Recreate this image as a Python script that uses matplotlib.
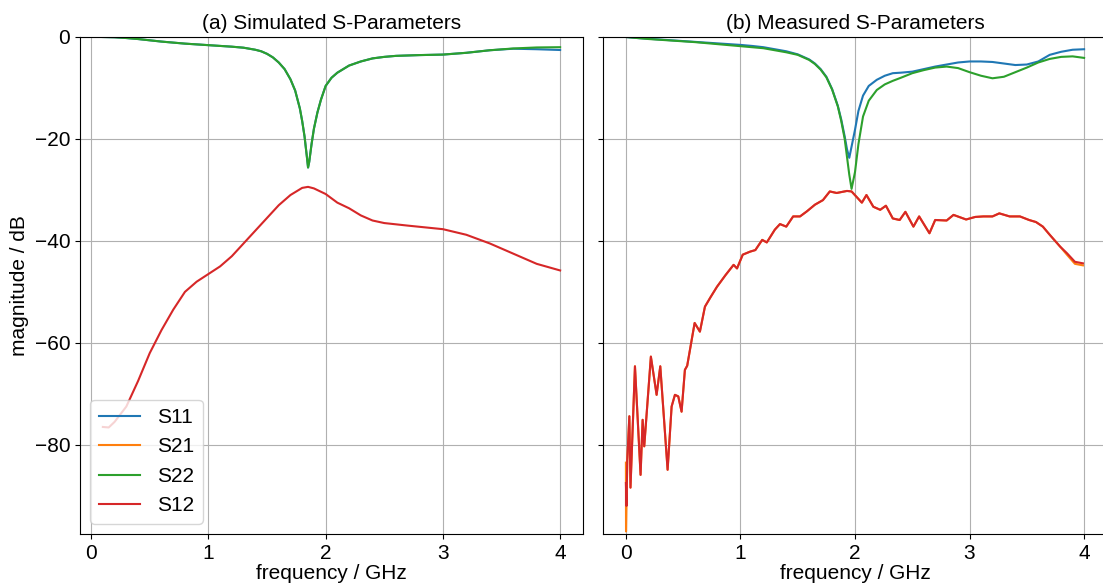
import numpy as np
import matplotlib.pyplot as plt

plt.rcParams['font.family'] = ['Liberation Sans', 'DejaVu Sans']
plt.rcParams['font.size'] = 15
plt.rcParams['axes.titlesize'] = 15

# ---- simulated S-parameters ----
f_sim = [0.1, 0.2, 0.3, 0.4, 0.5, 0.6, 0.7, 0.8, 0.9, 1.0, 1.1, 1.2, 1.3, 1.4, 1.45,
         1.5, 1.55, 1.6, 1.65, 1.7, 1.74, 1.78, 1.8, 1.82, 1.84, 1.85, 1.86, 1.88, 1.9,
         1.93, 1.96, 2.0, 2.05, 2.1, 2.2, 2.3, 2.4, 2.5, 2.6, 2.8, 3.0, 3.2, 3.4, 3.6,
         3.8, 4.0]
s22_sim = [0, -0.05, -0.2, -0.4, -0.65, -0.9, -1.1, -1.3, -1.45, -1.6, -1.75, -1.9, -2.1,
           -2.5, -2.8, -3.3, -4.0, -5.0, -6.3, -8.3, -10.5, -14.0, -16.5, -19.5, -23.5,
           -25.6, -24.5, -21.0, -18.0, -14.8, -12.3, -9.6, -8.0, -7.0, -5.6, -4.8, -4.2,
           -3.9, -3.7, -3.55, -3.45, -3.1, -2.6, -2.25, -2.05, -2.0]
s11_sim = s22_sim[:-3] + [-2.3, -2.4, -2.55]

f_s12_sim = [0.1, 0.15, 0.2, 0.3, 0.4, 0.5, 0.6, 0.7, 0.8, 0.9, 1.0, 1.1, 1.2, 1.3, 1.4,
             1.5, 1.6, 1.7, 1.8, 1.85, 1.9, 2.0, 2.1, 2.2, 2.3, 2.4, 2.5, 2.7, 3.0, 3.2,
             3.4, 3.6, 3.8, 4.0]
s12_sim = [-76.5, -76.6, -75.5, -72.5, -67.5, -62, -57.5, -53.5, -50, -48, -46.5, -45, -43,
           -40.5, -38, -35.5, -33, -31, -29.6, -29.4, -29.7, -30.8, -32.5, -33.6, -35.0,
           -36.0, -36.5, -37.0, -37.7, -38.8, -40.5, -42.5, -44.5, -45.8]

# ---- measured S-parameters ----
f_meas = [0, 0.1, 0.2, 0.3, 0.4, 0.5, 0.6, 0.7, 0.8, 0.9, 1.0, 1.1, 1.2, 1.3, 1.4, 1.5,
          1.6, 1.65, 1.7, 1.75, 1.8, 1.85, 1.88, 1.91, 1.93, 1.95, 1.97, 2.0, 2.03, 2.07,
          2.12, 2.19, 2.26, 2.33, 2.4, 2.5, 2.6, 2.7, 2.8, 2.9, 3.0, 3.1, 3.2, 3.3, 3.4,
          3.5, 3.6, 3.7, 3.8, 3.9, 4.0]
s11_meas = [0, -0.2, -0.35, -0.5, -0.65, -0.8, -0.95, -1.1, -1.25, -1.4, -1.55, -1.75,
            -2.0, -2.4, -2.8, -3.4, -4.4, -5.2, -6.3, -7.8, -10.2, -13.5, -16.2, -19.5,
            -22, -23.7, -21.5, -18.2, -14.5, -11.5, -9.6, -8.4, -7.6, -7.1, -7.0, -6.8,
            -6.3, -5.8, -5.4, -5.0, -4.8, -4.8, -4.9, -5.2, -5.5, -5.4, -4.8, -3.5, -2.9,
            -2.5, -2.4]
s22_meas = [0, -0.2, -0.4, -0.55, -0.7, -0.85, -1.0, -1.2, -1.4, -1.6, -1.8, -2.0, -2.2,
            -2.6, -3.0, -3.5, -4.5, -5.3, -6.4, -7.9, -10.3, -13.6, -16.5, -20, -23.5,
            -27, -29.8, -26.5, -21, -15.6, -12.5, -10.4, -9.3, -8.6, -8.0, -7.1, -6.5,
            -6.0, -5.8, -6.1, -6.9, -7.6, -8.1, -7.8, -6.9, -6.0, -5.0, -4.3, -3.9, -3.8,
            -4.1]

f_s12_meas = [0.0, 0.005, 0.012, 0.03, 0.04, 0.079, 0.128, 0.146, 0.16, 0.218, 0.268, 0.3,
              0.364, 0.399, 0.428, 0.457, 0.486, 0.515, 0.535, 0.6, 0.646, 0.69, 0.74,
              0.795, 0.87, 0.94, 0.97, 1.02, 1.085, 1.13, 1.19, 1.23, 1.3, 1.345, 1.4,
              1.46, 1.52, 1.58, 1.65, 1.72, 1.78, 1.84, 1.93, 1.97, 2.06, 2.1, 2.16, 2.22,
              2.27, 2.33, 2.39, 2.44, 2.51, 2.56, 2.65, 2.7, 2.8, 2.86, 2.97, 3.05, 3.12,
              3.2, 3.26, 3.35, 3.44, 3.52, 3.58, 3.64, 3.7, 3.79, 3.85, 3.92, 3.99]
s12_meas = [-87.5, -92, -83, -74.4, -88.4, -64.6, -85.9, -75.1, -80.3, -62.7, -70.2, -64.6,
            -84.9, -72.5, -70.2, -70.5, -73.5, -65.3, -64.5, -56.1, -57.8, -52.9, -51.0,
            -49.0, -46.7, -44.7, -45.4, -42.7, -42.1, -41.8, -39.8, -40.3, -37.8, -36.7,
            -37.2, -35.2, -35.2, -34.2, -32.9, -32.0, -30.3, -30.6, -30.2, -30.3, -32.5,
            -31.0, -33.3, -33.9, -33.1, -35.6, -35.9, -34.3, -37.2, -35.2, -38.5, -35.9,
            -36.0, -34.9, -35.8, -35.3, -35.2, -35.2, -34.6, -35.2, -35.2, -35.9, -36.3,
            -37.2, -38.8, -41.1, -42.4, -44.1, -44.4]
f_s21_meas = [0.0, 0.001] + f_s12_meas[2:]
s21_meas = [-83.5, -97.0] + s12_meas[2:-3] + [-42.7, -44.5, -44.8]

colors = {'S11': '#1f77b4', 'S21': '#ff7f0e', 'S22': '#2ca02c', 'S12': '#d62728'}

fig = plt.figure(figsize=(11.03, 5.85), dpi=100)
ax1 = fig.add_axes([80 / 1103, 51 / 585, 503 / 1103, 497 / 585])
ax2 = fig.add_axes([603 / 1103, 51 / 585, 504 / 1103, 497 / 585], sharey=ax1)

ax1.plot(f_sim, s11_sim, color=colors['S11'], label='S11')
ax1.plot(f_sim, s22_sim, color=colors['S22'], label='S22')
ax1.plot(f_s12_sim, s12_sim, color=colors['S12'], label='S12')

ax2.plot(f_meas, s11_meas, color=colors['S11'])
ax2.plot(f_s21_meas, s21_meas, color=colors['S21'])
ax2.plot(f_meas, s22_meas, color=colors['S22'])
ax2.plot(f_s12_meas, s12_meas, color=colors['S12'])

for ax in (ax1, ax2):
    ax.grid(True)
    ax.set_xlabel('frequency / GHz', labelpad=1)
    ax.set_xticks([0, 1, 2, 3, 4])
ax1.set_ylim(-97.5, 0)
ax1.set_ylabel('magnitude / dB')
ax1.set_title('(a) Simulated S-Parameters')
ax2.set_title('(b) Measured S-Parameters')
plt.setp(ax2.get_yticklabels(), visible=False)

# legend order as in the reference: S11, S21, S22, S12
names = ['S11', 'S21', 'S22', 'S12']
handles = [plt.Line2D([], [], color=colors[n]) for n in names]
ax1.legend(handles, names, loc='lower left')

fig.savefig('out.png', dpi=100)
